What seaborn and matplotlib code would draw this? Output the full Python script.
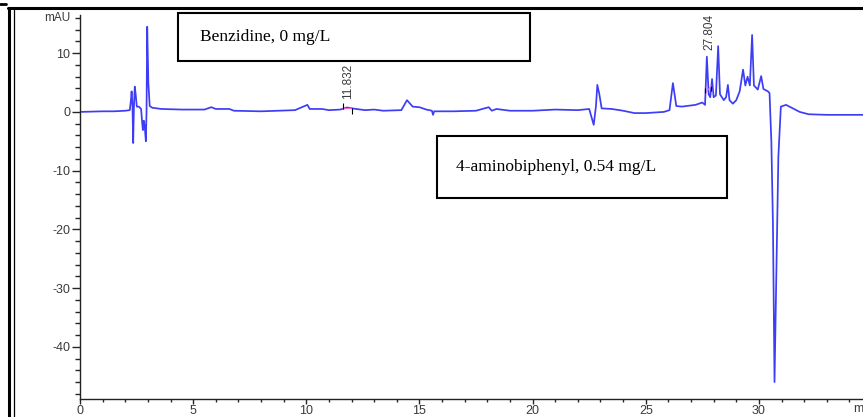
import numpy as np
import pandas as pd
import seaborn as sns
import matplotlib.pyplot as plt
from matplotlib.lines import Line2D
from matplotlib.patches import Rectangle
from matplotlib.ticker import MultipleLocator

# Chromatogramm-punkter lest av bildet (tid i min, signal i mAU)
tid = [0.0, 0.5, 1.0, 1.5, 2.0, 2.2, 2.25, 2.28, 2.32, 2.35, 2.38, 2.42, 2.46, 2.51,
       2.6, 2.7, 2.75, 2.78, 2.82, 2.86, 2.91, 2.94, 2.97, 3.02, 3.08, 3.2, 3.6,
       4.5, 5.5, 5.8, 6.0, 6.6, 6.8, 8.0, 9.5, 10.05, 10.15, 10.7, 11.0, 11.5,
       11.8, 12.2, 12.6, 13.0, 13.4, 14.2, 14.45, 14.7, 15.0, 15.3, 15.55, 15.6,
       15.65, 16.5, 17.5, 18.06, 18.2, 18.4, 19.0, 20.0, 21.0, 22.0, 22.5, 22.7,
       22.8, 22.86, 22.95, 23.05, 23.5, 24.0, 24.5, 25.0, 25.8, 26.05, 26.2,
       26.35, 26.6, 27.2, 27.5, 27.62, 27.7, 27.78, 27.85, 27.93, 28.0, 28.1,
       28.2, 28.28, 28.45, 28.55, 28.63, 28.7, 28.85, 29.0, 29.15, 29.3, 29.4,
       29.5, 29.6, 29.7, 29.78, 29.95, 30.1, 30.2, 30.4, 30.47, 30.55, 30.62,
       30.69, 30.76, 30.86, 30.97, 31.2, 31.5, 31.8, 32.2, 33.0, 34.6]
signal = [0.0, 0.05, 0.1, 0.1, 0.2, 0.3, 2.0, 3.5, 1.0, -5.3, 0.5, 4.3, 3.0, 0.9,
          0.9, 0.5, -2.0, -3.1, -1.5, -2.5, -5.0, 0.0, 14.5, 5.0, 1.0, 0.7, 0.5,
          0.4, 0.4, 0.8, 0.5, 0.5, 0.2, 0.1, 0.3, 1.2, 0.5, 0.5, 0.3, 0.4,
          0.75, 0.5, 0.3, 0.4, 0.2, 0.3, 2.0, 0.9, 0.8, 0.4, 0.2, -0.5,
          0.1, 0.1, 0.2, 0.8, 0.2, 0.5, 0.2, 0.2, 0.4, 0.3, 0.5, -2.2,
          1.0, 4.6, 3.0, 0.6, 0.5, 0.2, -0.2, -0.2, 0.0, 0.3, 4.9,
          1.0, 0.9, 1.2, 1.6, 1.2, 9.4, 3.0, 2.5, 5.6, 2.5, 2.8,
          11.2, 3.0, 2.0, 2.5, 4.6, 2.0, 1.4, 2.0, 3.5, 7.2, 4.5,
          6.0, 4.5, 13.1, 4.5, 3.8, 6.1, 3.9, 3.5, 3.2, -5.0, -19.0,
          -46.0, -30.0, -7.6, 0.9, 1.2, 0.6, 0.0, -0.4, -0.5, -0.5]

# Integrerte topper: retensjonstid, start, slutt
topp_tid = [11.832, 27.804]
topp_start = [11.62, 27.64]
topp_slutt = [12.0, 27.9]

df = pd.DataFrame({'tid': tid, 'mAU': signal})

sns.set_style('ticks')
plt.rcParams['font.family'] = ['Liberation Sans', 'DejaVu Sans']
plt.rcParams['axes.unicode_minus'] = False

fig = plt.figure(figsize=(8.63, 4.17), dpi=100)
ax = fig.add_axes([0.0927, 0.043, 0.9073, 0.921])

sns.lineplot(data=df, x='tid', y='mAU', ax=ax, color='#3d3df6',
             linewidth=1.25, estimator=None, sort=False)

# integrasjonsmerker og etiketter
for rt, s, e in zip(topp_tid, topp_start, topp_slutt):
    ys = np.interp(s, tid, signal)
    ye = np.interp(e, tid, signal)
    ax.plot([s, e], [ys, ye], color='#ff66cc', lw=0.8)
    ax.vlines([s, e], [ys, ye - 0.9], [ys + 0.9, ye], color='black', lw=0.8)
    yt = max(np.interp(rt, tid, signal), np.interp(rt - 0.1, tid, signal))
    ax.text(rt, yt + 1.4, f'{rt:.3f}', rotation=90, ha='center', va='bottom',
            fontsize=8.5, color='#3a3a3a')

ax.set_xlim(0, 34.6)
ax.set_ylim(-48.9, 16.5)
ax.xaxis.set_major_locator(MultipleLocator(5))
ax.xaxis.set_minor_locator(MultipleLocator(1))
ax.yaxis.set_major_locator(MultipleLocator(10))
ax.yaxis.set_minor_locator(MultipleLocator(2))
ax.set_yticks([10, 0, -10, -20, -30, -40])
ax.tick_params(axis='y', which='major', length=5.5, width=1.0, pad=1.5,
               labelsize=9, labelcolor='#3a3a3a')
ax.tick_params(axis='y', which='minor', length=3.5, width=1.0)
ax.tick_params(axis='x', which='major', length=3.5, width=1.0, pad=1,
               labelsize=9, labelcolor='#3a3a3a')
ax.tick_params(axis='x', which='minor', length=2.5, width=1.0)
ax.set_xlabel('')
ax.set_ylabel('')
sns.despine(ax=ax)
for sp in ['left', 'bottom']:
    ax.spines[sp].set_linewidth(1.0)
    ax.spines[sp].set_color('#222222')

fig.text(70 / 863, 1 - 18 / 417, 'mAU', ha='right', va='center',
         fontsize=8.5, color='#3a3a3a')
fig.text(853 / 863, 1 - 409 / 417, 'min', ha='left', va='center',
         fontsize=9, color='#3a3a3a')

# tekstbokser
for (x0, y0, x1, y1), tekst, tx in [
        ((178, 13, 530, 61), 'Benzidine, 0 mg/L', 200),
        ((437, 136, 727, 198), '4-aminobiphenyl, 0.54 mg/L', 456)]:
    fig.add_artist(Rectangle((x0 / 863, 1 - y1 / 417), (x1 - x0) / 863,
                             (y1 - y0) / 417, transform=fig.transFigure,
                             facecolor='white', edgecolor='black', lw=1.5))
    fig.text(tx / 863, 1 - (y0 + y1) / 2 / 417, tekst, ha='left', va='center',
             fontsize=12.5, family='Liberation Serif', color='black')

# ytre ramme
fig.add_artist(Line2D([8 / 863, 1], [1 - 8 / 417] * 2, transform=fig.transFigure,
                      color='black', lw=2.2))
fig.add_artist(Line2D([9 / 863] * 2, [0, 1 - 8 / 417], transform=fig.transFigure,
                      color='black', lw=2.2))
fig.add_artist(Line2D([13.5 / 863] * 2, [0, 1 - 10 / 417], transform=fig.transFigure,
                      color='black', lw=0.9))
fig.add_artist(Line2D([0, 6 / 863], [1 - 4 / 417] * 2, transform=fig.transFigure,
                      color='black', lw=2))

fig.savefig('out.png', dpi=100)
